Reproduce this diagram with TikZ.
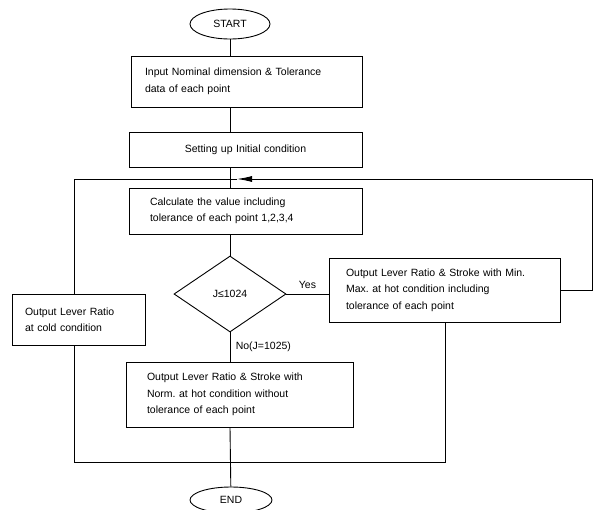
\documentclass[tikz,border=0pt]{standalone}
\usepackage{fontspec}
\setmainfont{Liberation Sans}
\usetikzlibrary{shapes.geometric,arrows.meta}
\begin{document}
\begin{tikzpicture}[x=1pt,y=-1pt,line width=0.9pt,
    box/.style={draw,rectangle,align=left,inner ysep=0pt,font=\fontsize{10.5}{16.5}\selectfont},
    term/.style={draw,ellipse,inner sep=0pt,font=\fontsize{10.5}{12}\selectfont},
    lbl/.style={font=\fontsize{10.5}{12}\selectfont}]
   \useasboundingbox (0,0) rectangle (600,509);

   % start / end
   \node[term,minimum width=80pt,minimum height=30pt] (start) at (230,24) {START};
   \node[term,minimum width=82pt,minimum height=26pt] (end) at (231,500) {END};

   % boxes
   \node[box,text width=203pt,inner xsep=14pt,minimum height=51pt] (input) at (246.5,81.5)
      {Input Nominal dimension \& Tolerance\\data of each point};
   \node[box,align=center,text width=213pt,inner xsep=10pt,minimum height=35pt] (init) at (245.5,149.5)
      {Setting up Initial condition};
   \node[box,text width=191pt,inner xsep=21pt,minimum height=46pt] (calc) at (245.5,211)
      {Calculate the value including\\tolerance of each point 1,2,3,4};
   \node[draw,diamond,minimum width=112pt,minimum height=76pt,inner sep=0pt,lbl] (dia) at (230,294) {J≤1024};
   \node[box,text width=197pt,inner xsep=17pt,minimum height=64pt] (hot) at (444.5,290)
      {Output Lever Ratio \& Stroke with Min.\\Max.\ at hot condition including\\tolerance of each point};
   \node[box,text width=107pt,inner xsep=13pt,minimum height=51pt] (cold) at (78.5,319.5)
      {Output Lever Ratio\\at cold condition};
   \node[box,text width=185pt,inner xsep=21pt,minimum height=65pt] (norm) at (239.5,394.5)
      {Output Lever Ratio \& Stroke with\\Norm.\ at hot condition without\\tolerance of each point};

   % main line
   \draw (start) -- (start |- input.north);
   \draw (start |- input.south) -- (start |- init.north);
   \draw (start |- init.south) -- (start |- calc.north);
   \draw (start |- calc.south) -- (dia.north);
   \draw (dia.south) -- node[right,xshift=2pt,lbl] {No(J=1025)} (dia.south |- norm.north);
   \draw (dia.south |- norm.south) -- (end);
   \draw (dia.east) -- node[above,yshift=2pt,lbl] {Yes} (dia.east -| hot.west);

   % loop
   \coordinate (lt) at (74,179);
   \coordinate (rt) at (592,179);
   \coordinate (arr) at (237,179);
   \coordinate (lb) at (74,462);
   \coordinate (rb) at (445,462);
   \draw[-{Latex[length=15pt,width=6pt]}] (hot.east) -| (rt) -- (arr);
   \draw (arr) -- (lt) -- (lt |- cold.north);
   \draw (lt |- cold.south) -- (lb) -- (rb) -- (rb |- hot.south);

\end{tikzpicture}
\end{document}
